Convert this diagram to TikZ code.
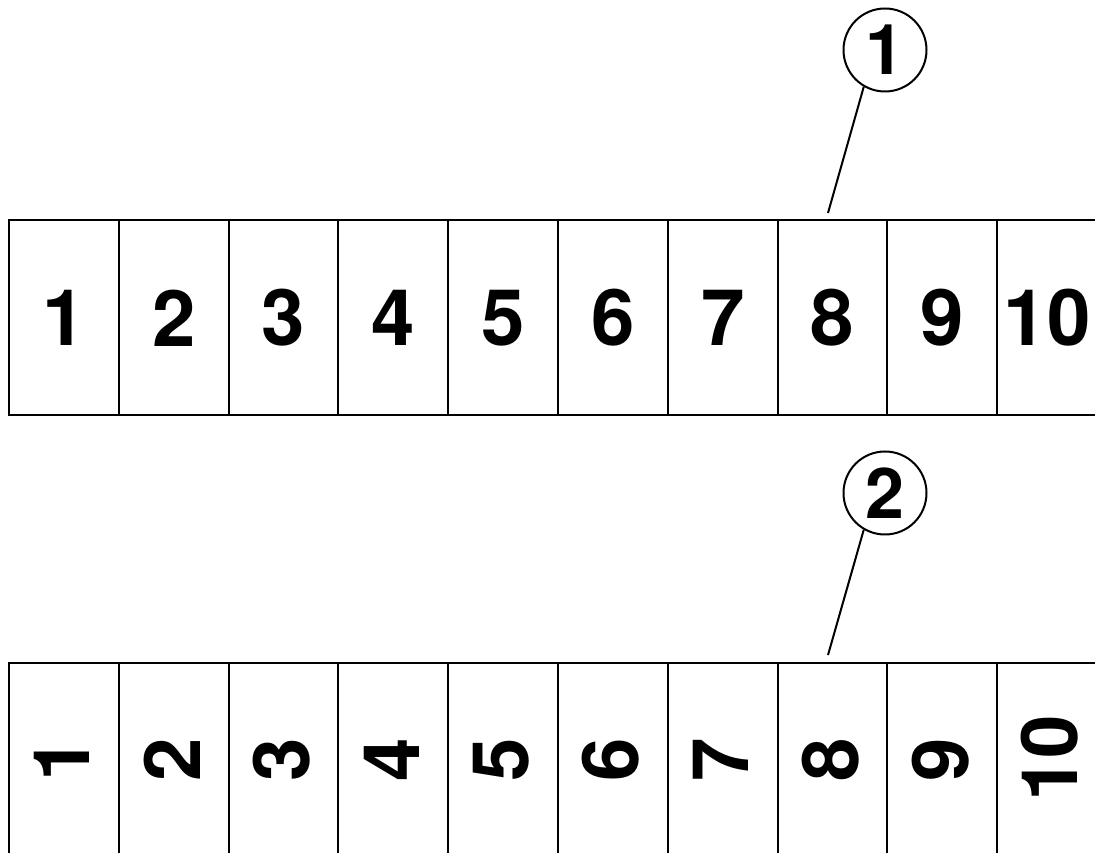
\documentclass[tikz,border=0pt]{standalone}
\usepackage{fontspec}
\setmainfont{TeX Gyre Heros}
\tikzset{
  cellline/.style={line width=2pt,color=black},
  digit/.style={font=\fontsize{78}{78}\bfseries\selectfont,inner sep=0pt},
  callout/.style={draw,circle,line width=2pt,minimum size=83pt,inner sep=0pt,
    font=\fontsize{70}{70}\bfseries\selectfont},
  leader/.style={line width=2pt}
}

\begin{document}
\begin{tikzpicture}[x=1pt,y=1pt]
\useasboundingbox (0,0) rectangle (1095,852);
\clip (0,0) rectangle (1095,852);

% upper strip
\draw[cellline] (1100,632) -- (9,632) -- (9,437) -- (1100,437);
\foreach \i in {1,...,9}
  \draw[cellline] ({9+109.8*\i},632) -- ({9+109.8*\i},437);
\foreach \i in {1,...,9}
  \node[digit] (u\i) at ({64+109.8*(\i-1)},534) {\i};
\node[digit] (u10) at (1047,534) {10};

% lower strip
\draw[cellline] (1100,189) -- (9,189) -- (9,-5);
\foreach \i in {1,...,9}
  \draw[cellline] ({9+109.8*\i},189) -- ({9+109.8*\i},-5);
\foreach \i in {1,...,9}
  \node[digit,rotate=90] (l\i) at ({62+109.8*(\i-1)},92) {\i};
\node[digit,rotate=90] (l10) at (1050,94) {10};

% callouts
\node[callout] (c1) at (885,802) {1};
\coordinate (t1) at (828,639);
\draw[leader] (c1.240) -- (t1);

\node[callout] (c2) at (885,359) {2};
\coordinate (t2) at (828,197);
\draw[leader] (c2.240) -- (t2);

\end{tikzpicture}
\end{document}
